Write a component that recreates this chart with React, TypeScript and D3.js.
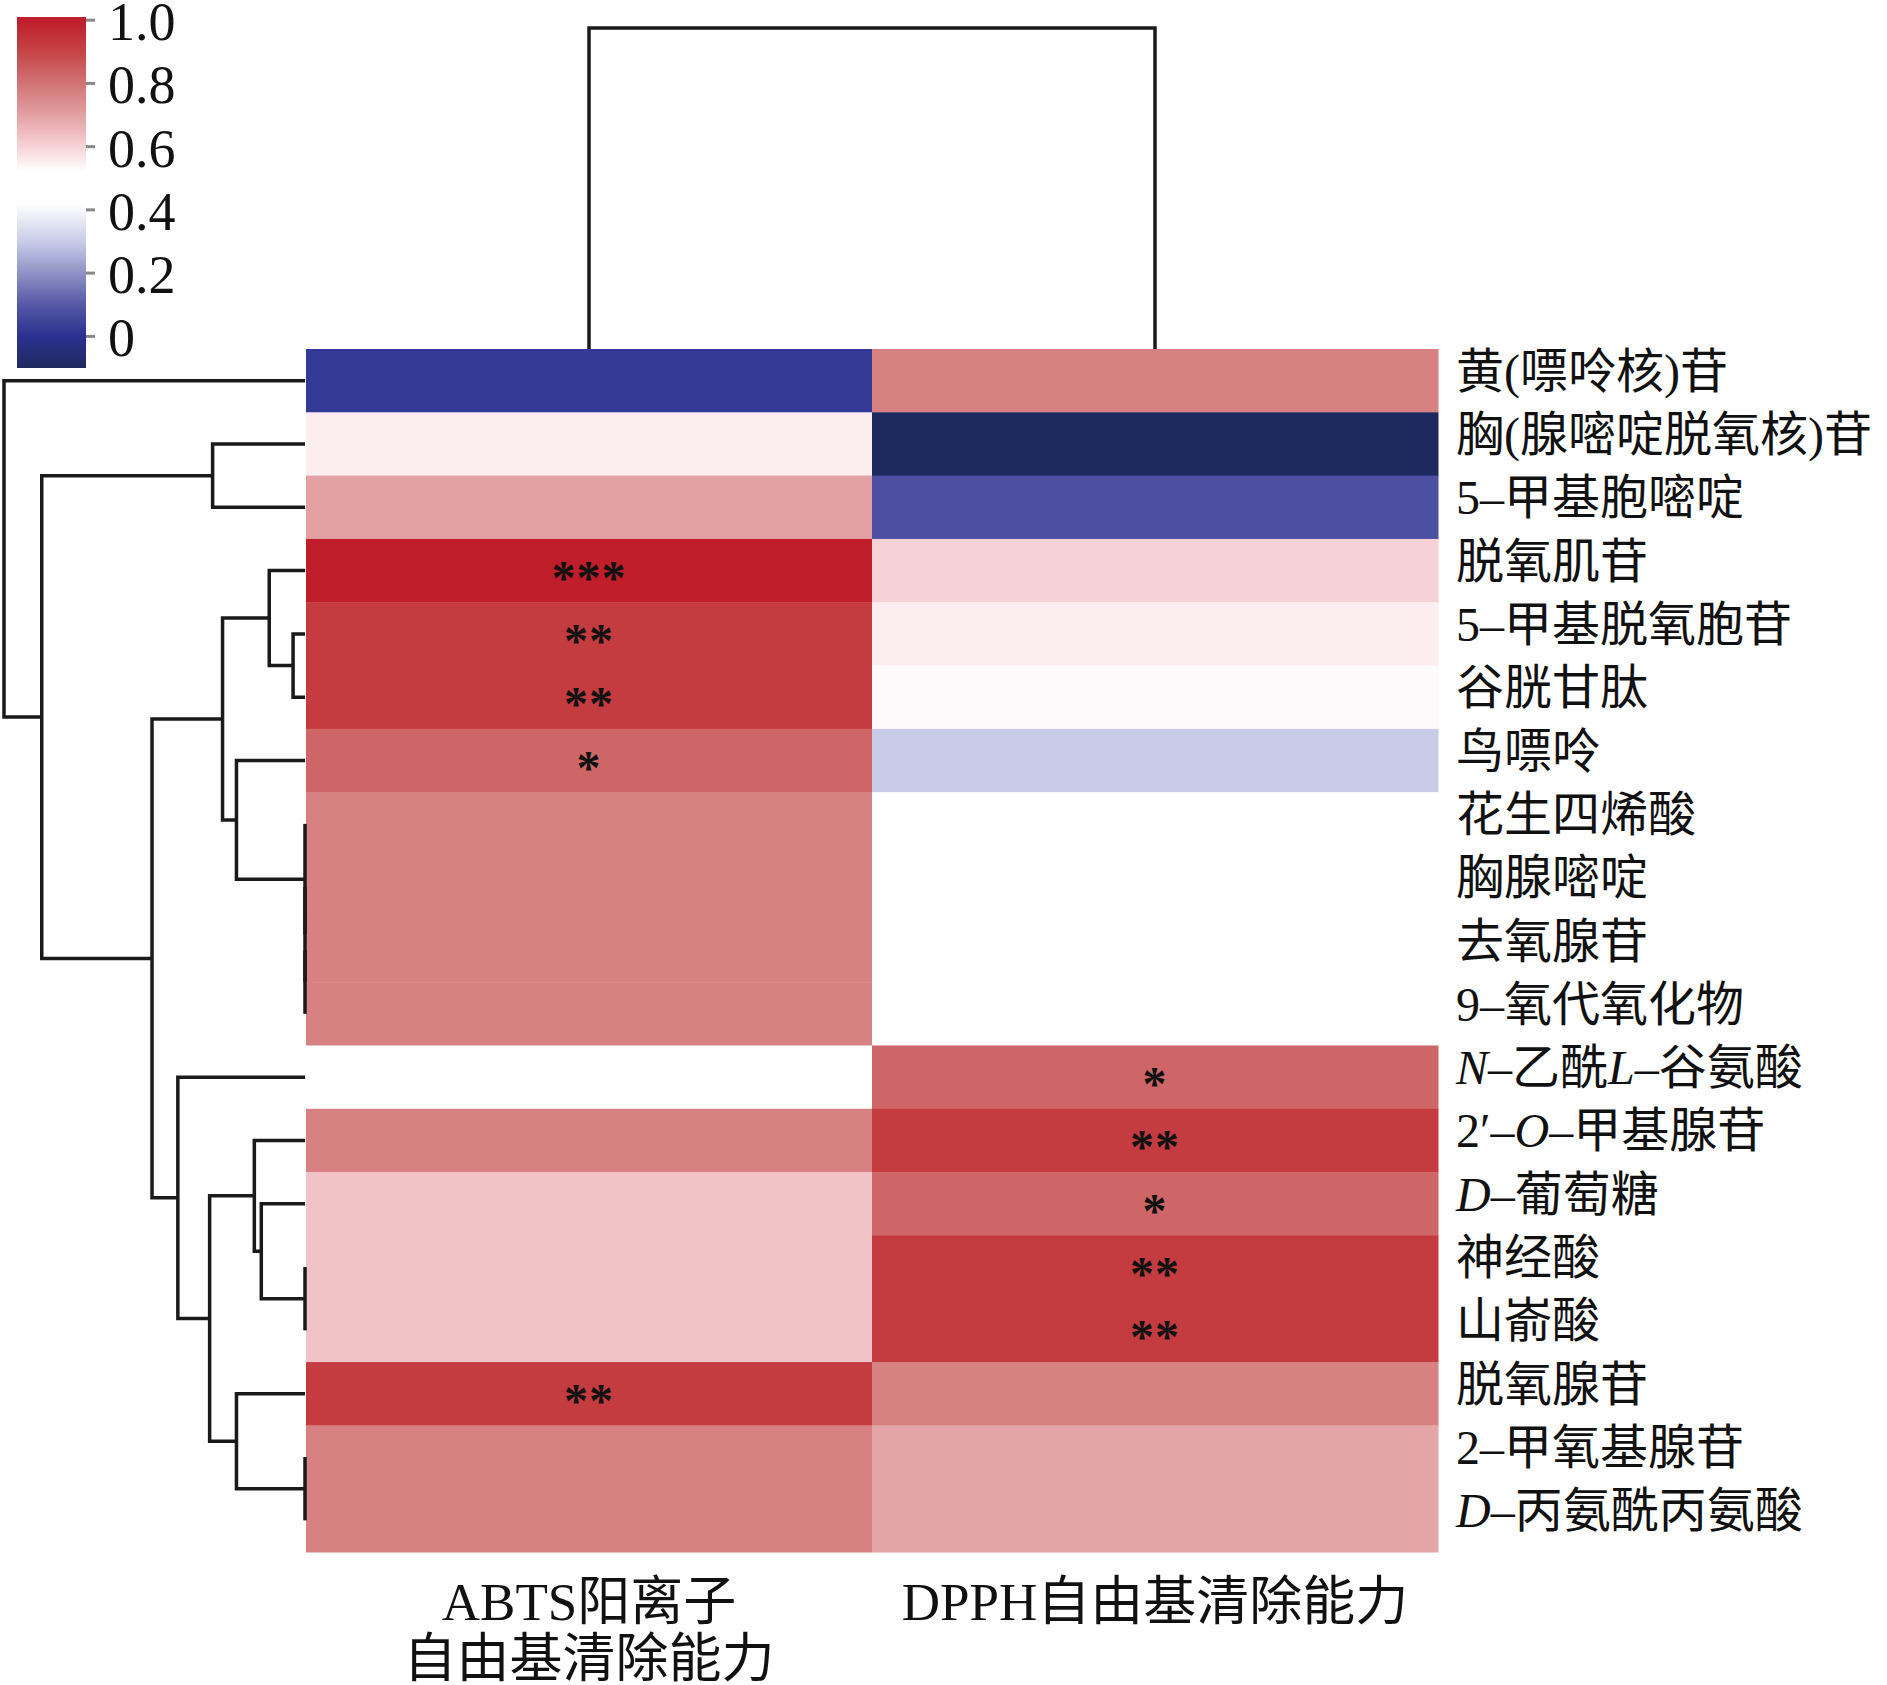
import React, { useEffect } from 'react';
import * as d3 from 'd3';

// row order as drawn (top to bottom); _x_ marks italic pieces
const rowLabels = [
  '黄(嘌呤核)苷',
  '胸(腺嘧啶脱氧核)苷',
  '5–甲基胞嘧啶',
  '脱氧肌苷',
  '5–甲基脱氧胞苷',
  '谷胱甘肽',
  '鸟嘌呤',
  '花生四烯酸',
  '胸腺嘧啶',
  '去氧腺苷',
  '9–氧代氧化物',
  '_N_–乙酰_L_–谷氨酸',
  '2′–_O_–甲基腺苷',
  '_D_–葡萄糖',
  '神经酸',
  '山嵛酸',
  '脱氧腺苷',
  '2–甲氧基腺苷',
  '_D_–丙氨酰丙氨酸',
];

const colLabels = [['ABTS阳离子', '自由基清除能力'], ['DPPH自由基清除能力']];

const abtsValues = [0.02, 0.55, 0.7, 1.0, 0.92, 0.92, 0.83, 0.77, 0.77, 0.77, 0.77, 0.46, 0.77, 0.63, 0.63, 0.63, 0.92, 0.77, 0.77];
const dpphValues = [0.77, -0.1, 0.08, 0.6, 0.55, 0.53, 0.3, 0.46, 0.46, 0.46, 0.46, 0.83, 0.92, 0.83, 0.92, 0.92, 0.77, 0.69, 0.69];

const abtsStars = ['', '', '', '***', '**', '**', '*', '', '', '', '', '', '', '', '', '', '**', '', ''];
const dpphStars = ['', '', '', '', '', '', '', '', '', '', '', '*', '**', '*', '**', '**', '', '', ''];

// hclust style merges: negative = leaf (1-based row), positive = earlier merge step
const rowMerges: [number, number, number][] = [
  [-15, -16, 0],
  [-18, -19, 0],
  [-10, -11, 0],
  [-9, 3, 0],
  [-8, 4, 0],
  [-5, -6, 0.12],
  [-4, 6, 0.36],
  [-14, 1, 0.44],
  [-13, 8, 0.51],
  [-7, 5, 0.69],
  [-17, 2, 0.69],
  [7, 10, 0.83],
  [-2, -3, 0.93],
  [9, 11, 0.96],
  [-12, 14, 1.28],
  [12, 15, 1.54],
  [13, 16, 2.65],
  [-1, 17, 3.03],
];
const colMerges: [number, number, number][] = [[-1, -2, 1.0]];

const legendTicks = [0, 0.2, 0.4, 0.6, 0.8, 1.0];

const palette: [number, string][] = [
  [-0.1, '#1e2a5e'],
  [0.0, '#2b3190'],
  [0.1, '#5558a6'],
  [0.2, '#9092c6'],
  [0.3, '#c8cce8'],
  [0.42, '#ffffff'],
  [0.52, '#ffffff'],
  [0.6, '#f6d2d6'],
  [0.7, '#e2a0a2'],
  [0.8, '#d27476'],
  [0.9, '#c64446'],
  [1.0, '#bf1e2a'],
];

const W = 1887;
const H = 1685;
const latin = '"Liberation Serif", "Noto Sans CJK SC", serif';

function dendroPaths(
  merges: [number, number, number][],
  leafPos: (i: number) => number,
  hScale: (h: number) => number,
  vertical: boolean
) {
  const pos: number[] = [];
  const hts: number[] = [];
  const paths: string[] = [];
  const p = (c: number) => (c < 0 ? leafPos(-c - 1) : pos[c - 1]);
  const h = (c: number) => (c < 0 ? 0 : hts[c - 1]);
  merges.forEach(([a, b, ht]) => {
    const pa = p(a), pb = p(b);
    const ha = hScale(h(a)), hb = hScale(h(b)), hn = hScale(ht);
    if (vertical) {
      paths.push(`M${pa},${ha}V${hn}H${pb}V${hb}`);
    } else {
      paths.push(`M${ha},${pa}H${hn}V${pb}H${hb}`);
    }
    pos.push((pa + pb) / 2);
    hts.push(ht);
  });
  return paths;
}

function Label({ text, x, y }: { text: string; x: number; y: number }) {
  const parts = text.split('_');
  return (
    <text x={x} y={y} dominantBaseline="central" fontSize={48} fontFamily={latin} fill="#111">
      {parts.map((s, i) => (
        <tspan key={i} fontStyle={i % 2 === 1 ? 'italic' : 'normal'}>{s}</tspan>
      ))}
    </text>
  );
}

export default function App() {
  useEffect(() => {
    document.body.style.margin = '0';
  }, []);

  const left = 306, right = 1438, top = 349, bottom = 1552;
  const rows = d3.range(rowLabels.length);
  const y = d3.scaleBand<number>().domain(rows).range([top, bottom]);
  const x = d3.scaleBand<number>().domain([0, 1]).range([left, right]);
  const color = d3
    .scaleLinear<string>()
    .domain(palette.map((d) => d[0]))
    .range(palette.map((d) => d[1]))
    .interpolate(d3.interpolateRgb)
    .clamp(true);

  const columns = [abtsValues, dpphValues];
  const stars = [abtsStars, dpphStars];

  const rowH = d3.scaleLinear().domain([0, d3.max(rowMerges, (d) => d[2])!]).range([305, 4]);
  const colH = d3.scaleLinear().domain([0, d3.max(colMerges, (d) => d[2])!]).range([top, 28]);
  const rowPaths = dendroPaths(rowMerges, (i) => y(i)! + y.bandwidth() / 2, rowH, false);
  const colPaths = dendroPaths(colMerges, (i) => x(i)! + x.bandwidth() / 2, colH, true);

  // legend
  const legY = d3.scaleLinear().domain([-0.1, 1.01]).range([368, 17]);
  const legX0 = 17, legX1 = 86;

  return (
    <svg width={W} height={H} style={{ display: 'block', background: '#fff' }}>
      <defs>
        <linearGradient id="leg" x1="0" y1="0" x2="0" y2="1">
          {palette
            .slice()
            .reverse()
            .map(([v, c], i) => (
              <stop key={i} offset={(1.01 - v) / 1.11} stopColor={c} />
            ))}
        </linearGradient>
      </defs>

      {/* heatmap cells */}
      {columns.map((vals, ci) =>
        vals.map((v, ri) => (
          <rect
            key={`${ci}-${ri}`}
            x={x(ci)}
            y={y(ri)}
            width={x.bandwidth() + 0.5}
            height={y.bandwidth() + 0.5}
            fill={color(v)}
          />
        ))
      )}

      {/* significance marks */}
      {stars.map((col, ci) =>
        col.map((s, ri) =>
          s ? (
            <text
              key={`s${ci}-${ri}`}
              x={x(ci)! + x.bandwidth() / 2}
              y={y(ri)! + y.bandwidth() / 2 + 23}
              textAnchor="middle"
              fontSize={48}
              fontWeight="bold"
              letterSpacing={1}
              fontFamily={latin}
              fill="#111"
            >
              {s}
            </text>
          ) : null
        )
      )}

      {/* dendrograms */}
      <g fill="none" stroke="#1a1a1a" strokeWidth={3.5}>
        {rowPaths.map((d, i) => (
          <path key={`r${i}`} d={d} />
        ))}
        {colPaths.map((d, i) => (
          <path key={`c${i}`} d={d} />
        ))}
      </g>

      {/* row labels */}
      {rowLabels.map((t, i) => (
        <Label key={i} text={t} x={1456} y={y(i)! + y.bandwidth() / 2 - 10} />
      ))}

      {/* column labels */}
      {colLabels.map((lines, ci) =>
        lines.map((l, li) => (
          <text
            key={`cl${ci}-${li}`}
            x={x(ci)! + x.bandwidth() / 2}
            y={1620 + li * 57}
            textAnchor="middle"
            fontSize={53}
            fontFamily={latin}
            fill="#111"
          >
            {l}
          </text>
        ))
      )}

      {/* colour key */}
      <rect x={legX0} y={legY(1.01)} width={legX1 - legX0} height={legY(-0.1) - legY(1.01)} fill="url(#leg)" />
      {legendTicks.map((t) => (
        <g key={t}>
          <line x1={legX1} x2={legX1 + 9} y1={legY(t)} y2={legY(t)} stroke="#888" strokeWidth={3} />
          <text x={108} y={legY(t) + 20} fontSize={54} fontFamily={latin} fill="#111">
            {t === 0 ? '0' : d3.format('.1f')(t)}
          </text>
        </g>
      ))}
    </svg>
  );
}
